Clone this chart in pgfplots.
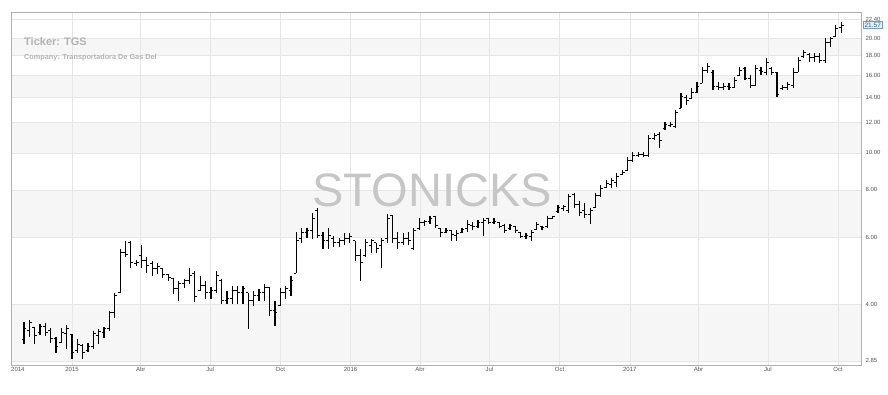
\documentclass[border=0pt]{standalone}
\usepackage{fontspec}
\setmainfont{Liberation Sans}
\usepackage{pgfplots}
\pgfplotsset{compat=1.18}
\usepackage{pgfplotstable}
\definecolor{band}{HTML}{F6F6F6}
\definecolor{gridc}{HTML}{E6E6E6}
\definecolor{axisc}{HTML}{B0B0B0}
\definecolor{labc}{HTML}{555555}
\definecolor{wm}{HTML}{C6C6C6}
\definecolor{tickc}{HTML}{B3B3B3}
\definecolor{boxb}{HTML}{6E9FD2}
\definecolor{boxf}{HTML}{E6EEF8}
\definecolor{boxt}{HTML}{2F5F96}
\pgfdeclareplotmark{ohlcopen}{\pgfpathmoveto{\pgfqpoint{-2.4pt}{0pt}}\pgfpathlineto{\pgfqpoint{0pt}{0pt}}\pgfusepathqstroke}
\pgfdeclareplotmark{ohlcclose}{\pgfpathmoveto{\pgfqpoint{0pt}{0pt}}\pgfpathlineto{\pgfqpoint{2.4pt}{0pt}}\pgfusepathqstroke}
\pgfplotstableread{
d o h l c
-63 3.24 3.61 3.16 3.46
-56 3.42 3.65 3.30 3.59
-49 3.48 3.48 3.16 3.32
-42 3.38 3.56 3.34 3.50
-35 3.50 3.59 3.32 3.38
-28 3.42 3.48 3.18 3.26
-21 3.26 3.30 2.99 3.10
-14 3.18 3.48 3.18 3.38
-7 3.36 3.54 3.07 3.46
0 3.34 3.36 2.89 2.99
7 3.03 3.26 2.99 3.14
14 3.12 3.16 2.89 2.99
21 3.03 3.18 3.01 3.10
28 3.10 3.42 3.07 3.36
35 3.32 3.46 3.16 3.40
42 3.38 3.50 3.28 3.46
49 3.46 3.86 3.42 3.81
56 3.81 4.30 3.70 4.22
63 4.30 5.61 4.30 5.48
70 5.48 5.89 5.32 5.42
77 5.82 5.89 5.00 5.16
84 5.13 5.25 5.06 5.16
91 5.38 5.72 5.00 5.22
98 5.22 5.32 4.85 5.06
105 5.12 5.22 4.77 4.97
112 4.97 5.16 4.82 5.03
119 4.97 4.97 4.71 4.80
126 4.80 4.82 4.62 4.71
133 4.68 4.71 4.27 4.40
140 4.40 4.62 4.10 4.54
147 4.54 4.68 4.43 4.62
154 4.62 5.00 4.54 4.77
161 4.83 4.91 4.07 4.20
168 4.35 4.77 4.35 4.49
175 4.49 4.62 4.15 4.30
182 4.30 4.46 4.15 4.35
189 4.35 4.91 4.30 4.77
196 4.62 4.68 4.02 4.10
203 4.10 4.35 4.02 4.15
210 4.15 4.49 4.02 4.35
217 4.35 4.49 4.02 4.30
224 4.30 4.49 4.02 4.40
231 4.30 4.30 3.46 4.10
238 4.10 4.35 3.98 4.22
245 4.22 4.40 4.10 4.30
252 4.30 4.54 4.10 4.43
259 4.43 4.43 3.74 3.86
266 3.86 4.10 3.52 3.81
273 3.98 4.43 3.98 4.30
280 4.30 4.49 4.15 4.40
287 4.35 4.77 4.22 4.62
294 4.83 6.19 4.83 5.89
301 5.96 6.34 5.82 6.19
308 6.19 6.37 6.00 6.26
315 6.26 6.97 5.96 6.73
322 7.06 7.15 6.00 6.07
329 6.07 6.19 5.61 5.89
336 5.89 6.34 5.61 6.07
343 5.96 6.07 5.65 5.82
350 5.82 6.00 5.65 5.89
357 5.89 6.15 5.72 5.96
364 5.96 6.15 5.79 6.03
371 5.89 5.89 5.22 5.38
378 5.38 5.61 4.62 5.16
385 5.38 5.96 5.32 5.82
392 5.72 5.96 5.48 5.89
399 5.82 5.82 5.48 5.61
406 5.72 6.00 5.00 5.89
413 5.96 6.93 5.82 6.73
420 6.85 6.85 5.82 5.96
427 5.96 6.19 5.61 5.82
434 5.82 6.15 5.72 5.96
441 5.96 6.19 5.72 5.89
448 5.61 6.34 5.55 6.26
455 6.34 6.73 6.26 6.57
462 6.57 6.65 6.45 6.61
469 6.61 6.85 6.53 6.73
476 6.81 6.85 6.37 6.45
483 6.34 6.34 6.03 6.19
490 6.19 6.34 6.15 6.26
497 6.26 6.26 5.89 6.11
504 6.07 6.26 5.89 6.15
511 6.19 6.37 6.15 6.30
518 6.34 6.65 6.19 6.49
525 6.45 6.57 6.26 6.41
532 6.41 6.65 6.34 6.57
539 6.57 6.77 6.07 6.65
546 6.73 6.77 6.53 6.57
553 6.57 6.73 6.53 6.61
560 6.57 6.57 6.34 6.41
567 6.45 6.53 6.15 6.26
574 6.34 6.53 6.26 6.45
581 6.41 6.45 6.15 6.26
588 6.19 6.19 6.00 6.03
595 6.03 6.15 5.96 6.07
602 6.03 6.26 5.89 6.19
609 6.30 6.57 6.26 6.49
616 6.41 6.45 6.26 6.37
623 6.41 6.85 6.37 6.73
630 6.73 6.85 6.69 6.81
637 7.02 7.28 6.97 7.19
644 7.15 7.28 7.06 7.24
651 7.06 7.82 6.97 7.68
658 7.78 7.87 7.19 7.32
665 7.32 7.50 6.85 6.97
672 7.06 7.41 6.77 6.89
679 6.89 7.19 6.53 7.06
686 7.19 7.87 7.15 7.73
693 7.73 8.22 7.64 8.07
700 8.12 8.47 8.07 8.32
707 8.27 8.57 8.07 8.47
714 8.37 8.84 8.12 8.68
721 8.79 9.00 8.73 8.89
728 9.00 9.73 9.00 9.56
735 9.56 10.03 9.44 9.85
742 9.85 10.03 9.73 9.91
749 9.91 10.03 9.73 9.85
756 9.85 11.12 9.73 10.92
763 10.92 11.25 10.79 11.12
770 11.18 11.32 10.28 10.79
777 11.60 12.03 11.46 11.88
784 11.81 12.03 11.67 11.88
791 11.74 12.93 11.60 12.78
798 13.09 14.33 13.09 14.07
805 13.99 14.16 13.33 13.74
812 13.90 14.78 13.90 14.42
819 14.42 15.33 14.33 14.96
826 15.24 16.78 15.24 16.48
833 16.48 17.19 16.18 16.88
840 16.28 16.48 14.60 14.96
847 14.96 15.33 14.60 14.87
854 14.87 15.24 14.60 14.96
861 14.96 15.24 14.60 14.87
868 14.87 15.80 14.78 15.51
875 15.99 16.78 15.99 16.48
882 16.68 16.78 15.51 15.70
889 15.70 15.99 14.78 15.05
896 15.05 16.98 15.05 16.68
903 16.48 16.78 15.99 16.38
910 16.28 17.71 15.99 17.29
917 16.68 16.78 15.99 16.28
924 16.28 16.28 13.99 14.25
931 14.78 15.05 14.60 14.87
938 14.87 15.33 14.60 15.14
945 15.05 16.68 14.78 16.28
952 16.28 17.82 16.28 17.50
959 17.93 18.60 17.71 18.37
966 18.15 18.26 17.29 17.82
973 17.82 18.26 17.29 17.93
980 17.93 18.26 17.19 17.50
987 17.50 19.99 17.19 19.52
994 19.52 20.11 18.94 19.99
1001 20.23 21.63 20.11 21.24
1008 21.37 22.03 20.61 21.57
}\ohlc
\begin{document}
\begin{tikzpicture}
\path (0,0) rectangle (888pt,395pt);
\begin{axis}[
  at={(11pt,30pt)}, anchor=south west,
  scale only axis, width=850pt, height=353pt,
  set layers,
  xmin=-80, xmax=1034,
  ymode=log, ymin=2.78, ymax=23.4,
  axis line style={axisc, line width=0.9pt},
  xtick={0,90,181,273,365,456,547,639,731,821,912,1004},
  xticklabels={2015,Abr,Jul,Oct,2016,Abr,Jul,Oct,2017,Abr,Jul,Oct},
  extra x ticks={-71}, extra x tick labels={2014},
  extra x tick style={grid=none},
  xmajorgrids, ymajorgrids,
  grid style={gridc, line width=0.6pt},
  major tick length=0pt, minor tick length=0pt,
  ytick={2.85,4,6,8,10,12,14,16,18,20,22.4},
  yticklabels={2.85,4.00,6.00,8.00,10.00,12.00,14.00,16.00,18.00,20.00,22.40},
  yticklabel pos=right,
  tick label style={font=\fontsize{6}{7}\selectfont, text=labc},
  xticklabel style={anchor=north, yshift=1pt},
  yticklabel style={anchor=west, xshift=1pt},
]
\addplot[fill=band, draw=none, forget plot, on layer=axis background] coordinates {(-80,18) (1034,18) (1034,20) (-80,20)} -- cycle;
\addplot[fill=band, draw=none, forget plot, on layer=axis background] coordinates {(-80,14) (1034,14) (1034,16) (-80,16)} -- cycle;
\addplot[fill=band, draw=none, forget plot, on layer=axis background] coordinates {(-80,10) (1034,10) (1034,12) (-80,12)} -- cycle;
\addplot[fill=band, draw=none, forget plot, on layer=axis background] coordinates {(-80,6) (1034,6) (1034,8) (-80,8)} -- cycle;
\addplot[fill=band, draw=none, forget plot, on layer=axis background] coordinates {(-80,2.85) (1034,2.85) (1034,4) (-80,4)} -- cycle;
\node[anchor=base west, inner sep=0pt, text=wm, font=\fontsize{47}{47}\selectfont] at (axis cs:315,7.24) {STONICKS};
\addplot[draw=none, mark=none, forget plot,
  error bars/.cd, y dir=minus, y explicit, error mark=none,
  error bar style={draw=black, solid, line width=1.2pt}]
  table[x=d, y=h, y error expr=\thisrow{h}-\thisrow{l}] {\ohlc};
\addplot[only marks, mark=ohlcopen, mark options={draw=black, line width=1.05pt}, forget plot]
  table[x=d, y=o] {\ohlc};
\addplot[only marks, mark=ohlcclose, mark options={draw=black, line width=1.05pt}, forget plot]
  table[x=d, y=c] {\ohlc};
\end{axis}
\node[anchor=west, inner sep=0pt, text=tickc, font=\bfseries\fontsize{11}{11}\selectfont] at (24pt,353pt) {Ticker: TGS};
\node[anchor=west, inner sep=0pt, text=tickc, font=\bfseries\fontsize{7.3}{8}\selectfont] at (24pt,337pt) {Company: Transportadora De Gas Del};
\node[anchor=west, draw=boxb, fill=boxf, text=boxt, line width=0.6pt, inner xsep=1.3pt, inner ysep=1.5pt, font=\fontsize{6.5}{6.5}\selectfont] at (863pt,370pt) {21.57};
\end{tikzpicture}
\end{document}
